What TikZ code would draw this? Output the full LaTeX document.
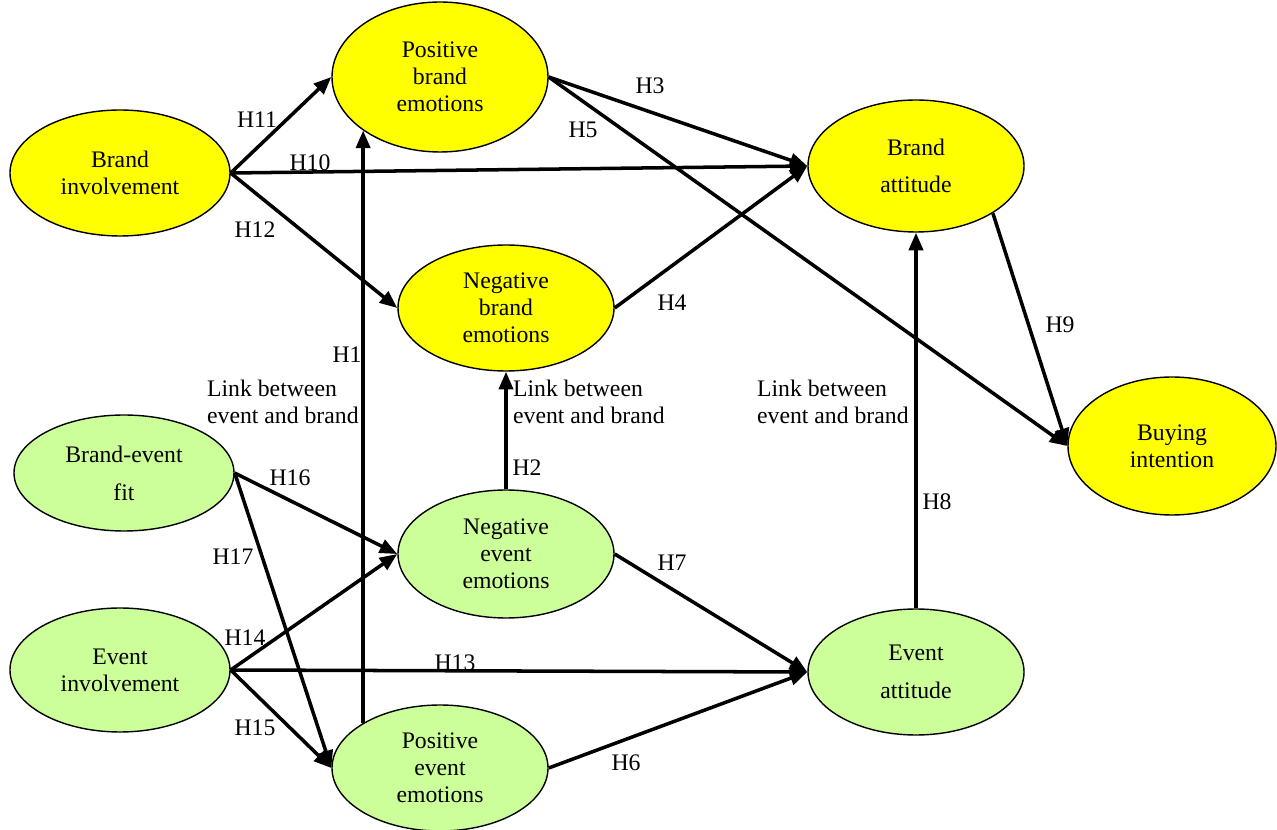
\documentclass[tikz,border=0pt]{standalone}
\usepackage{fontspec}
\setmainfont{Liberation Serif}
\usetikzlibrary{shapes.geometric,arrows.meta}
\definecolor{brandyellow}{HTML}{FFFF00}
\definecolor{eventgreen}{HTML}{CCFF99}
\tikzset{
  construct/.style={ellipse, draw, line width=0.8pt, inner sep=0pt, align=center,
    minimum width=216*0.2mm, minimum height=128*0.2mm},
  brandnode/.style={construct, fill=brandyellow},
  eventnode/.style={construct, fill=eventgreen},
  path/.style={line width=2pt, -{Triangle[length=10pt,width=8pt]}},
  hyp/.style={inner sep=1pt},
  txt/.style={font=\fontsize{13.5pt}{15.5pt}\selectfont}
}
\begin{document}
\begin{tikzpicture}[x=0.2mm, y=-0.2mm, every node/.style={txt}]
    \useasboundingbox (0,0) rectangle (1277,830);
    \node[brandnode, minimum height=150*0.2mm] (pbe) at (440,77) {Positive\\brand\\emotions};
    \node[brandnode, minimum width=220*0.2mm, minimum height=126*0.2mm] (bi) at (120,173) {Brand\\involvement};
    \node[brandnode, minimum height=132*0.2mm] (ba) at (916,166) {Brand\\[6pt]attitude};
    \node[brandnode, minimum height=126*0.2mm] (nbe) at (506,308) {Negative\\brand\\emotions};
    \node[brandnode, minimum width=208*0.2mm, minimum height=138*0.2mm] (buy) at (1172,446) {Buying\\intention};
    \node[eventnode, minimum width=220*0.2mm, minimum height=116*0.2mm] (bef) at (124,473) {Brand-event\\[6pt]fit};
    \node[eventnode] (nee) at (506,554) {Negative\\event\\emotions};
    \node[eventnode, minimum width=220*0.2mm, minimum height=124*0.2mm] (ei) at (120,670) {Event\\involvement};
    \node[eventnode, minimum height=126*0.2mm] (ea) at (916,672) {Event\\[6pt]attitude};
    \node[eventnode, minimum height=126*0.2mm] (pee) at (440,768) {Positive\\event\\emotions};

    \draw[path] (bi.east) -- (pbe.west);
    \draw[path] (bi.east) -- (ba.west);
    \draw[path] (bi.east) -- (nbe.west);
    \draw[path] (pbe.east) -- (ba.west);
    \draw[path] (pbe.east) -- (buy.west);
    \draw[path] (nbe.east) -- (ba.west);
    \draw[path] (ba.south east) -- (buy.west);
    \draw[path] (pee.north west) -- (pbe.south west);
    \draw[path] (nee.north) -- (nbe.south);
    \draw[path] (ea.north) -- (ba.south);
    \draw[path] (bef.east) -- (nee.west);
    \draw[path] (bef.east) -- (pee.west);
    \draw[path] (ei.east) -- (nee.west);
    \draw[path] (ei.east) -- (ea.west);
    \draw[path] (ei.east) -- (pee.west);
    \draw[path] (nee.east) -- (ea.west);
    \draw[path] (pee.east) -- (ea.west);

    \node[hyp] (h11) at (257,120) {H11};
    \node[hyp] (h10) at (310,163) {H10};
    \node[hyp] (h12) at (255,230) {H12};
    \node[hyp] (h3) at (650,86) {H3};
    \node[hyp] (h5) at (583,130) {H5};
    \node[hyp] (h4) at (672,303) {H4};
    \node[hyp] (h9) at (1060,325) {H9};
    \node[hyp] (h1) at (347,355) {H1};
    \node[hyp] (h2) at (527,468) {H2};
    \node[hyp] (h8) at (937,502) {H8};
    \node[hyp] (h16) at (290,478) {H16};
    \node[hyp] (h17) at (233,557) {H17};
    \node[hyp] (h14) at (245,638) {H14};
    \node[hyp] (h13) at (455,663) {H13};
    \node[hyp] (h15) at (255,728) {H15};
    \node[hyp] (h7) at (672,563) {H7};
    \node[hyp] (h6) at (626,763) {H6};

    \node[hyp, anchor=west, align=left] (link1) at (205,402) {Link between\\event and brand};
    \node[hyp, anchor=west, align=left] (link2) at (511,402) {Link between\\event and brand};
    \node[hyp, anchor=west, align=left] (link3) at (755,402) {Link between\\event and brand};
\end{tikzpicture}
\end{document}
